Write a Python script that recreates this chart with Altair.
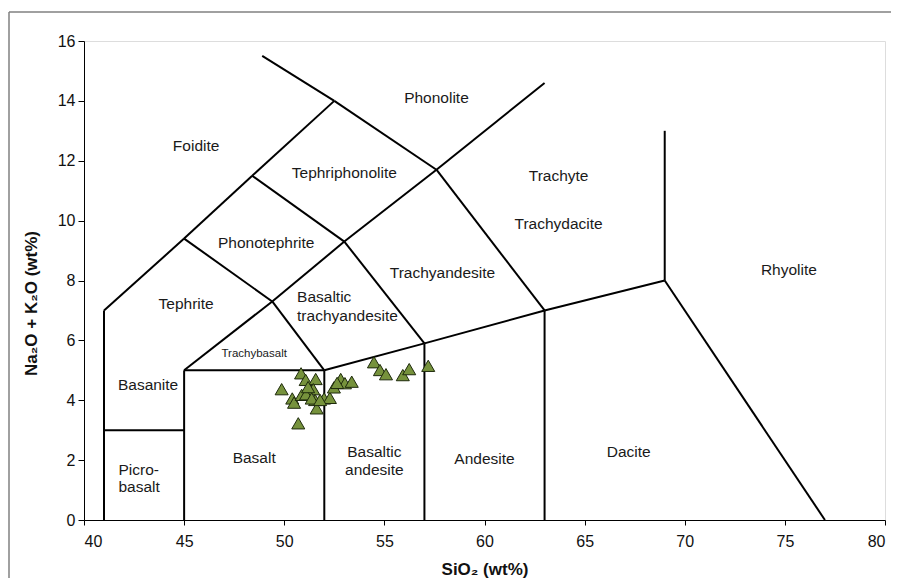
import altair as alt
import pandas as pd

# ---- data ----
seg_x1 = [41, 41, 41, 45, 48.4, 52.5, 45, 45, 49.4, 53, 57.6, 52.5, 57.6, 45, 48.4, 49.4, 45, 52, 52, 57, 53, 57, 63, 63, 69, 69]
seg_y1 = [0, 3, 7, 9.4, 11.5, 14, 0, 5, 7.3, 9.3, 11.7, 14, 11.7, 9.4, 11.5, 7.3, 5, 0, 5, 0, 9.3, 5.9, 0, 7, 8, 8]
seg_x2 = [41, 45, 45, 48.4, 52.5, 48.9, 45, 49.4, 53, 57.6, 63, 57.6, 63, 49.4, 53, 52, 52, 52, 57, 57, 57, 63, 63, 69, 69, 77]
seg_y2 = [7, 3, 9.4, 11.5, 14, 15.5, 5, 7.3, 9.3, 11.7, 14.6, 11.7, 7, 7.3, 9.3, 5, 5, 5, 5.9, 5.9, 5.9, 7, 7, 8, 13, 0]

label_text = ["Foidite", "Phonolite", "Tephriphonolite", "Trachyte", "Trachydacite",
              "Phonotephrite", "Trachyandesite", "Rhyolite", "Tephrite", "Basanite",
              "Basalt", "Andesite", "Dacite"]
label_x = [45.6, 57.6, 53.0, 63.7, 63.7, 49.1, 57.9, 75.2, 45.1, 43.2, 48.5, 60.0, 67.2]
label_y = [12.5, 14.1, 11.6, 11.5, 9.9, 9.25, 8.25, 8.35, 7.2, 4.5, 2.07, 2.04, 2.27]

left_text = ["Basaltic", "trachyandesite", "Picro-", "basalt"]
left_x = [50.64, 50.64, 41.72, 41.72]
left_y = [7.45, 6.81, 1.67, 1.11]

center2_text = ["Basaltic", "andesite"]
center2_x = [54.5, 54.5]
center2_y = [2.27, 1.67]

small_text = ["Trachybasalt"]
small_x = [48.5]
small_y = [5.54]

sio2 = [50.84, 51.07, 51.57, 49.87, 51.45, 50.40, 50.49, 50.87, 51.09, 51.54, 51.62,
        51.99, 52.28, 52.48, 52.82, 53.03, 53.37, 50.70, 51.37, 51.79, 51.19, 52.64,
        54.48, 54.78, 55.08, 55.92, 56.24, 57.19]
alk = [4.90, 4.68, 4.71, 4.37, 4.37, 4.06, 3.92, 4.18, 4.20, 4.01, 3.73,
       4.06, 4.08, 4.43, 4.71, 4.57, 4.62, 3.23, 4.06, 4.01, 4.44, 4.58,
       5.27, 5.01, 4.87, 4.84, 5.04, 5.15]

x_ticks = [40, 45, 50, 55, 60, 65, 70, 75, 80]
y_ticks = [0, 2, 4, 6, 8, 10, 12, 14, 16]

# ---- tables ----
segs = pd.DataFrame({"x": seg_x1, "y": seg_y1, "x2": seg_x2, "y2": seg_y2})
labels = pd.DataFrame({"x": label_x, "y": label_y, "t": label_text})
lefts = pd.DataFrame({"x": left_x, "y": left_y, "t": left_text})
cent2 = pd.DataFrame({"x": center2_x, "y": center2_y, "t": center2_text})
smalls = pd.DataFrame({"x": small_x, "y": small_y, "t": small_text})
pts = pd.DataFrame({"x": sio2, "y": alk})

FONT = "Liberation Sans"
xs = alt.Scale(domain=[40, 80], nice=False, zero=False)
ys = alt.Scale(domain=[0, 16], nice=False, zero=False)

xax = alt.Axis(values=x_ticks, title="SiO₂ (wt%)", grid=False, tickSize=5,
               labelFontSize=16, titleFontSize=17, titleFontWeight="bold",
               labelFont=FONT, titleFont=FONT, domainColor="black", tickColor="black",
               labelColor="#111", titleColor="#111", titlePadding=12, labelPadding=8)
yax = alt.Axis(values=y_ticks, title="Na₂O + K₂O (wt%)", grid=False, tickSize=6,
               labelFontSize=16, titleFontSize=17, titleFontWeight="bold",
               labelFont=FONT, titleFont=FONT, domainColor="black", tickColor="black",
               labelColor="#111", titleColor="#111", titlePadding=17, labelPadding=3,
               titleY=262)

lines = alt.Chart(segs).mark_rule(color="black", strokeWidth=2).encode(
    x=alt.X("x:Q", scale=xs, axis=xax),
    y=alt.Y("y:Q", scale=ys, axis=yax),
    x2="x2:Q", y2="y2:Q")

txt = alt.Chart(labels).mark_text(font=FONT, fontSize=15.5, color="#1a1a1a",
                                  align="center", baseline="middle").encode(
    x=alt.X("x:Q", scale=xs), y=alt.Y("y:Q", scale=ys), text="t:N")
txt_left = alt.Chart(lefts).mark_text(font=FONT, fontSize=15.5, color="#1a1a1a",
                                      align="left", baseline="middle").encode(
    x=alt.X("x:Q", scale=xs), y=alt.Y("y:Q", scale=ys), text="t:N")
txt_c2 = alt.Chart(cent2).mark_text(font=FONT, fontSize=15.5, color="#1a1a1a",
                                    align="center", baseline="middle").encode(
    x=alt.X("x:Q", scale=xs), y=alt.Y("y:Q", scale=ys), text="t:N")
txt_small = alt.Chart(smalls).mark_text(font=FONT, fontSize=11.5, color="#1a1a1a",
                                        align="center", baseline="middle").encode(
    x=alt.X("x:Q", scale=xs), y=alt.Y("y:Q", scale=ys), text="t:N")

points = alt.Chart(pts).mark_point(shape="triangle-up", filled=True, size=170,
                                   fill="#76923C", stroke="#1e2a0c", strokeWidth=1,
                                   opacity=1).encode(
    x=alt.X("x:Q", scale=xs), y=alt.Y("y:Q", scale=ys))

frame_top = alt.Chart(pd.DataFrame({"a": [0]})).mark_rule(color="#808080", strokeWidth=1.5).encode(
    x=alt.value(-75), x2=alt.value(830), y=alt.value(-29))
frame_left = alt.Chart(pd.DataFrame({"a": [0]})).mark_rule(color="#808080", strokeWidth=1.5).encode(
    x=alt.value(-75), y=alt.value(-29), y2=alt.value(600))

chart = alt.layer(frame_top, frame_left, lines, txt, txt_left, txt_c2, txt_small, points).properties(
    width=801, height=479,
    autosize=alt.AutoSizeParams(type="none"),
    padding={"left": 76, "top": 33, "right": 6, "bottom": 58},
).configure_view(stroke="black", strokeWidth=1).configure(background="white")

chart.save("out.html", embed_options={"renderer": "svg", "actions": False})
